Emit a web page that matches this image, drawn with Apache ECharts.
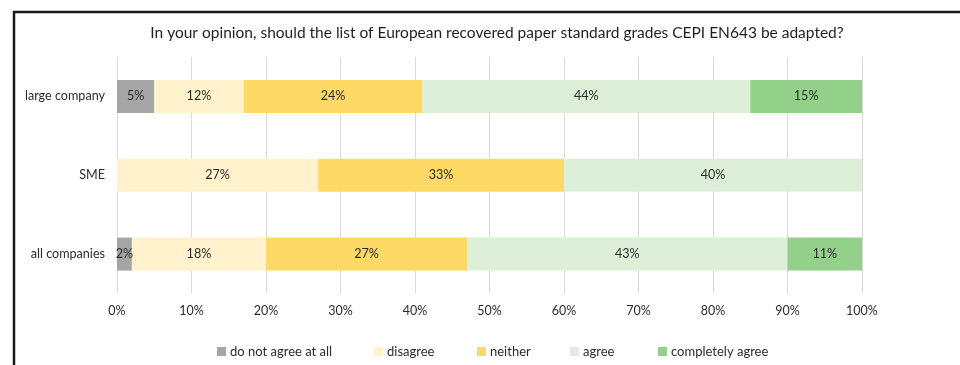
<!DOCTYPE html>
<html>
<head>
<meta charset="utf-8">
<script src="https://cdn.jsdelivr.net/npm/echarts@6/dist/echarts.min.js"></script>
<style>
  html, body { margin: 0; padding: 0; background: #fff; }
  #chart { width: 960px; height: 365px; }
</style>
</head>
<body>
<div id="chart"></div>
<script>
// Survey answers per company group, in percent
const categories = ['all companies', 'SME', 'large company'];
const answerNames = ['do not agree at all', 'disagree', 'neither', 'agree', 'completely agree'];
const doNotAgreeAtAll = [2, 0, 5];
const disagree = [18, 27, 12];
const neither = [27, 33, 24];
const agree = [43, 40, 44];
const completelyAgree = [11, 0, 15];
const tickLabels = ['0%', '10%', '20%', '30%', '40%', '50%', '60%', '70%', '80%', '90%', '100%'];

const seriesValues = [doNotAgreeAtAll, disagree, neither, agree, completelyAgree];
const colors = ['#A5A5A5', '#FFF2CC', '#FFD966', '#DDEFD9', '#93D08A'];
const legendLeft = [212, 369, 472, 565, 653];
const font = 'Lato, "Open Sans", sans-serif';
const textColor = '#2b2b2b';

const chart = echarts.init(document.getElementById('chart'), null, { renderer: 'canvas' });

chart.setOption({
  animation: false,
  textStyle: { fontFamily: font },
  title: {
    text: 'In your opinion, should the list of European recovered paper standard grades CEPI EN643 be adapted?',
    left: 492,
    top: 20,
    textAlign: 'center',
    textStyle: { fontFamily: font, fontSize: 15.5, fontWeight: 'normal', color: '#1f1f1f' }
  },
  legend: answerNames.map((n, i) => ({
    data: [n],
    left: legendLeft[i],
    top: 340,
    itemWidth: 9,
    itemHeight: 9,
    itemGap: 4,
    icon: 'rect',
    selectedMode: false,
    textStyle: { fontFamily: font, fontSize: 13, color: textColor, padding: [0, 0, 0, -1] }
  })),
  grid: { left: 117, right: 98, top: 57, bottom: 71.5, containLabel: false },
  xAxis: {
    type: 'value',
    min: 0,
    max: 100,
    interval: 10,
    axisLine: { show: false },
    axisTick: { show: false },
    splitLine: { lineStyle: { color: '#D9D9D9', width: 1 } },
    axisLabel: {
      margin: 11,
      fontSize: 12.5,
      color: textColor,
      fontFamily: font,
      formatter: (v) => tickLabels[Math.round(v / 10)]
    }
  },
  yAxis: {
    type: 'category',
    data: categories,
    axisLine: { show: false },
    axisTick: { show: false },
    axisLabel: { margin: 12, fontSize: 12.6, color: textColor, fontFamily: font }
  },
  series: answerNames.map((n, i) => ({
    name: n,
    type: 'bar',
    stack: 'total',
    barWidth: 33,
    itemStyle: { color: colors[i] },
    data: seriesValues[i].map(v => (v === 0 ? null : v)),
    label: {
      show: true,
      position: 'inside',
      fontSize: 12.6,
      color: textColor,
      fontFamily: font,
      formatter: (p) => p.value + '%'
    }
  })),
  graphic: [{
    type: 'rect',
    shape: { x: 14, y: 12, width: 1000, height: 400 },
    style: { fill: 'none', stroke: '#1a1a1a', lineWidth: 2.5 },
    silent: true
  }]
});
</script>
</body>
</html>
